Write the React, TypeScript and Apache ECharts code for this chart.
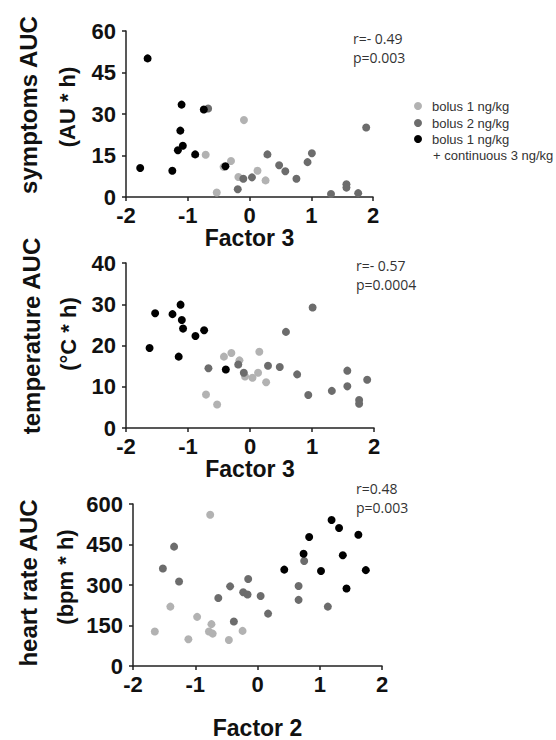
import React, { useEffect, useRef } from "react";
import * as echarts from "echarts";

// Panel 1: symptoms AUC vs Factor 3
const symLight: number[][] = [
  [-0.71, 15.3], [-0.09, 27.8], [-0.30, 13.0], [-0.42, 10.9], [-0.53, 1.6],
  [-0.18, 7.2], [0.13, 9.5], [0.26, 6.0],
];
const symMedium: number[][] = [
  [-0.67, 32.0], [-0.19, 2.8], [-0.10, 6.6], [0.04, 7.1], [0.29, 15.4],
  [0.48, 11.5], [0.58, 9.3], [0.76, 6.6], [0.94, 12.6], [1.01, 15.8],
  [1.32, 1.1], [1.57, 4.6], [1.57, 3.4], [1.76, 1.4], [1.89, 25.1],
];
const symBlack: number[][] = [
  [-1.65, 50.1], [-1.77, 10.5], [-1.25, 9.5], [-1.16, 16.9], [-1.08, 18.5],
  [-1.12, 24.0], [-1.10, 33.4], [-0.88, 15.4], [-0.74, 31.6], [-0.39, 11.1],
];

// Panel 2: temperature AUC vs Factor 3
const tempLight: number[][] = [
  [-0.71, 8.1], [-0.53, 5.7], [-0.42, 17.3], [-0.30, 18.2], [-0.17, 16.4],
  [-0.08, 12.5], [0.04, 12.2], [0.13, 13.4], [0.15, 18.5], [0.26, 11.1],
];
const tempMedium: number[][] = [
  [-0.67, 14.5], [-0.19, 15.4], [-0.10, 13.4], [0.29, 15.1], [0.48, 14.8],
  [0.58, 23.3], [0.76, 13.0], [0.94, 8.0], [1.01, 29.2], [1.32, 9.0],
  [1.57, 13.9], [1.57, 10.1], [1.76, 6.8], [1.76, 5.9], [1.89, 11.7],
];
const tempBlack: number[][] = [
  [-1.62, 19.4], [-1.53, 27.8], [-1.25, 27.6], [-1.12, 29.9], [-1.10, 26.2],
  [-1.08, 24.1], [-1.15, 17.3], [-0.88, 22.3], [-0.74, 23.7], [-0.39, 14.2],
];

// Panel 3: heart rate AUC vs Factor 2
const hrLight: number[][] = [
  [-1.65, 128], [-1.40, 220], [-1.11, 99], [-0.97, 182], [-0.78, 128],
  [-0.76, 560], [-0.74, 155], [-0.72, 120], [-0.46, 96], [-0.24, 130],
];
const hrMedium: number[][] = [
  [-1.52, 361], [-1.34, 442], [-1.26, 313], [-0.63, 252], [-0.44, 295],
  [-0.38, 165], [-0.23, 273], [-0.16, 265], [-0.15, 322], [0.05, 259],
  [0.17, 194], [0.66, 296], [0.66, 245], [0.75, 389], [1.13, 220],
];
const hrBlack: number[][] = [
  [0.43, 357], [0.74, 416], [0.83, 478], [1.02, 352], [1.19, 541],
  [1.31, 511], [1.37, 410], [1.43, 287], [1.62, 486], [1.74, 355],
];

const groupNames = ["bolus 1 ng/kg", "bolus 2 ng/kg", "bolus 1 ng/kg", "+ continuous 3 ng/kg"];
const yNames = ["symptoms AUC", "temperature AUC", "heart rate AUC"];
const yUnits = ["(AU * h)", "(°C * h)", "(bpm * h)"];
const xNames = ["Factor 3", "Factor 3", "Factor 2"];
const statsR = ["r=- 0.49", "r=- 0.57", "r=0.48"];
const statsP = ["p=0.003", "p=0.0004", "p=0.003"];
const yMax = [60, 40, 600];
const yStep = [15, 10, 150];

const LIGHT = "#b2b2b2";
const MEDIUM = "#6c6c6c";
const BLACK = "#000000";
const AXIS = "#222222";
const BOLD = "'Liberation Sans', Arial, sans-serif";

export default function App() {
  const ref = useRef<HTMLDivElement>(null);
  useEffect(() => {
    document.body.style.margin = "0";
    const chart = echarts.init(ref.current!, null, { renderer: "svg" });
    const grids = [
      { left: 126, top: 31, width: 247, height: 166 },
      { left: 126, top: 263, width: 248, height: 165 },
      { left: 133, top: 504, width: 249, height: 166 },
    ];
    const xNameGaps = [26, 25, 50];
    const xAxes = grids.map((_, i) => ({
      type: "value",
      gridIndex: i,
      min: -2,
      max: 2,
      interval: 1,
      name: xNames[i],
      nameLocation: "middle",
      nameGap: xNameGaps[i],
      nameTextStyle: { fontFamily: BOLD, fontWeight: "bold", fontSize: 23, color: "#111" },
      axisLine: { show: true, onZero: false, lineStyle: { color: AXIS, width: 1.5 } },
      axisTick: { show: true, length: 4, lineStyle: { color: AXIS, width: 1.5 } },
      axisLabel: { margin: 7, fontFamily: BOLD, fontWeight: "bold", fontSize: 22, color: "#111" },
      splitLine: { show: false },
    }));
    const yAxes = grids.map((_, i) => ({
      type: "value",
      gridIndex: i,
      min: 0,
      max: yMax[i],
      interval: yStep[i],
      axisLine: { show: true, onZero: false, lineStyle: { color: AXIS, width: 1.5 } },
      axisTick: { show: true, length: 4, lineStyle: { color: AXIS, width: 1.5 } },
      axisLabel: { margin: 10, fontFamily: BOLD, fontWeight: "bold", fontSize: 22, color: "#111" },
      splitLine: { show: false },
    }));
    const mk = (name: string, data: number[][], color: string, gi: number) => ({
      type: "scatter",
      name,
      xAxisIndex: gi,
      yAxisIndex: gi,
      data,
      symbol: "circle",
      symbolSize: 8,
      itemStyle: { color, opacity: 1 },
      z: color === BLACK ? 3 : color === MEDIUM ? 2 : 1,
    });
    const series = [
      mk(groupNames[0], symLight, LIGHT, 0),
      mk(groupNames[1], symMedium, MEDIUM, 0),
      mk(groupNames[2], symBlack, BLACK, 0),
      mk(groupNames[0], tempLight, LIGHT, 1),
      mk(groupNames[1], tempMedium, MEDIUM, 1),
      mk(groupNames[2], tempBlack, BLACK, 1),
      mk(groupNames[0], hrLight, LIGHT, 2),
      mk(groupNames[1], hrMedium, MEDIUM, 2),
      mk(groupNames[2], hrBlack, BLACK, 2),
    ];

    const nameX = [28, 31, 28];
    const unitX = [67, 68, 65];
    const nameY = [105, 336, 583];
    const unitY = [107, 334, 577];
    const statX = [353, 356, 356];
    const statRY = [38, 265, 488];
    const graphic: any[] = [];
    for (let i = 0; i < 3; i++) {
      graphic.push({
        type: "text", x: nameX[i], y: nameY[i], rotation: Math.PI / 2,
        style: { text: yNames[i], fontFamily: BOLD, fontWeight: "bold", fontSize: 24, fill: "#111", textAlign: "center", textVerticalAlign: "middle" },
      });
      graphic.push({
        type: "text", x: unitX[i], y: unitY[i], rotation: Math.PI / 2,
        style: { text: yUnits[i], fontFamily: BOLD, fontWeight: "bold", fontSize: 22, fill: "#111", textAlign: "center", textVerticalAlign: "middle" },
      });
      graphic.push({
        type: "text", x: statX[i], y: statRY[i],
        style: { text: statsR[i], fontFamily: "'Open Sans', sans-serif", fontSize: 14, fill: "#333", textAlign: "left", textVerticalAlign: "middle" },
      });
      graphic.push({
        type: "text", x: statX[i], y: statRY[i] + 19,
        style: { text: statsP[i], fontFamily: "'Open Sans', sans-serif", fontSize: 14, fill: "#333", textAlign: "left", textVerticalAlign: "middle" },
      });
    }
    const legColors = [LIGHT, MEDIUM, BLACK];
    const legY = [106, 123, 139, 155];
    for (let i = 0; i < 3; i++) {
      graphic.push({ type: "circle", shape: { cx: 418, cy: legY[i], r: 4 }, style: { fill: legColors[i] } });
    }
    for (let i = 0; i < 4; i++) {
      graphic.push({
        type: "text", x: i === 3 ? 433 : 432, y: legY[i],
        style: { text: groupNames[i], fontFamily: "'Liberation Sans', Arial, sans-serif", fontSize: 13, fill: "#333", textAlign: "left", textVerticalAlign: "middle" },
      });
    }

    chart.setOption({
      animation: false,
      backgroundColor: "#ffffff",
      grid: grids,
      xAxis: xAxes,
      yAxis: yAxes,
      series,
      graphic,
    });
    return () => chart.dispose();
  }, []);
  return <div ref={ref} style={{ width: 556, height: 740 }} />;
}
